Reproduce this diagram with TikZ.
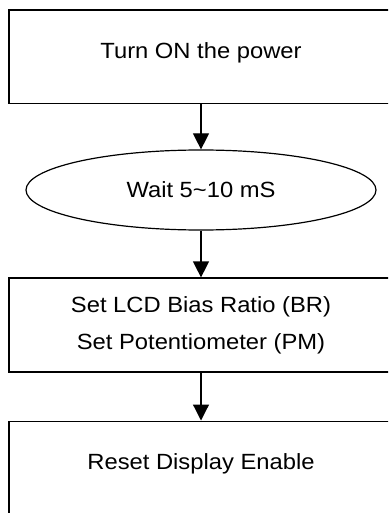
\documentclass[tikz,border=0pt]{standalone}
\usepackage{fontspec}
\setmainfont[FakeStretch=1.08]{Liberation Sans}
\usetikzlibrary{arrows.meta,shapes.geometric}
\tikzset{stepbox/.style={draw,line width=1.2pt,inner sep=0pt,minimum width=384pt,
    font=\fontsize{22}{37}\selectfont,align=center}}
\tikzset{waitoval/.style={draw,ellipse,line width=1.2pt,inner sep=0pt,minimum width=350pt,
    minimum height=80pt,font=\fontsize{22}{37}\selectfont}}
\tikzset{flow/.style={-{Triangle[width=16pt,length=16pt]},line width=1.2pt}}

\begin{document}
\begin{tikzpicture}[x=1pt,y=-1pt]
    % frame of the picture
    \useasboundingbox (0,0) rectangle (388,513);
    \clip (0,0) rectangle (388,513);
    % the steps
    \node[stepbox,text height=48.5pt,text depth=45pt] (power) at (201,9.5) [anchor=north] {Turn ON the power};
    \node[waitoval] (wait) at (201,190) {Wait 5\textasciitilde10 mS};
    \node[stepbox,minimum height=94pt] (bias) at (201,325) {Set LCD Bias Ratio (BR)\\Set Potentiometer (PM)};
    \node[stepbox,text height=48pt,text depth=45.5pt] (reset) at (201,420.5) [anchor=north] {Reset Display Enable};
    % the arrows
    \draw[flow] (power) -- (wait);
    \draw[flow] (wait) -- (bias);
    \draw[flow] (bias) -- (reset);
\end{tikzpicture}
\end{document}
